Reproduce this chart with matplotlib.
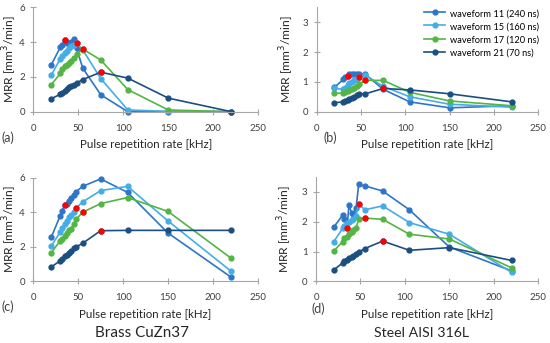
import matplotlib
matplotlib.use('Agg')
import matplotlib.pyplot as plt

# pulse repetition rates [kHz]
freq = [20, 30, 32, 35, 37, 40, 42, 45, 48, 55, 75, 105, 150, 220]

labels = ['waveform 11 (240 ns)', 'waveform 15 (160 ns)',
          'waveform 17 (120 ns)', 'waveform 21 (70 ns)']
colors = ['#2E75C8', '#45ADE6', '#52B544', '#1B4F82']
# index of the red point (PRF0) for each waveform
red_idx = [3, 8, 9, 10]

# (a)
a_wf11 = [2.7, 3.7, 3.85, 4.1, 3.95, 3.95, 4.0, 4.15, 3.65, 2.5, 0.97, 0.0, 0.0, 0.0]
a_wf15 = [2.1, 3.05, 3.2, 3.4, 3.5, 3.65, 3.75, 3.85, 3.95, 3.55, 1.9, 0.1, 0.02, 0.0]
a_wf17 = [1.55, 2.2, 2.45, 2.6, 2.7, 2.8, 2.9, 3.1, 3.3, 3.6, 2.97, 1.27, 0.1, 0.0]
a_wf21 = [0.75, 1.0, 1.1, 1.2, 1.3, 1.4, 1.45, 1.55, 1.65, 1.85, 2.27, 1.93, 0.78, 0.0]

# (b)
b_wf11 = [0.82, 1.08, 1.15, 1.2, 1.25, 1.27, 1.25, 1.27, 1.28, 1.25, 0.75, 0.33, 0.13, 0.2]
b_wf15 = [0.78, 0.75, 0.8, 0.88, 0.95, 1.0, 1.05, 1.1, 1.15, 1.22, 0.85, 0.5, 0.25, 0.15]
b_wf17 = [0.62, 0.62, 0.65, 0.7, 0.72, 0.77, 0.8, 0.87, 0.93, 1.05, 1.05, 0.65, 0.36, 0.2]
b_wf21 = [0.3, 0.33, 0.37, 0.4, 0.43, 0.47, 0.5, 0.55, 0.6, 0.6, 0.78, 0.73, 0.6, 0.33]

# (c)
c_wf11 = [2.55, 3.8, 4.1, 4.4, 4.5, 4.65, 4.8, 5.0, 5.2, 5.5, 5.93, 5.15, 2.8, 0.25]
c_wf15 = [2.05, 2.85, 3.1, 3.3, 3.5, 3.7, 3.85, 4.0, 4.25, 4.6, 5.25, 5.5, 3.5, 0.6]
c_wf17 = [1.65, 2.35, 2.45, 2.6, 2.8, 2.95, 3.05, 3.3, 3.6, 4.0, 4.5, 4.85, 4.05, 1.35]
c_wf21 = [0.82, 1.2, 1.3, 1.45, 1.55, 1.65, 1.75, 1.9, 2.0, 2.2, 2.93, 2.95, 2.95, 2.95]

# (d)
d_wf11 = [1.82, 2.22, 2.1, 1.8, 2.55, 2.3, 2.25, 2.45, 3.25, 3.2, 3.03, 2.4, 1.15, 0.35]
d_wf15 = [1.33, 1.78, 1.85, 1.95, 2.0, 2.05, 2.1, 2.2, 2.6, 2.4, 2.53, 1.97, 1.58, 0.3]
d_wf17 = [1.02, 1.33, 1.45, 1.5, 1.6, 1.65, 1.72, 1.8, 2.08, 2.12, 2.08, 1.58, 1.42, 0.45]
d_wf21 = [0.38, 0.62, 0.68, 0.73, 0.77, 0.8, 0.85, 0.92, 0.98, 1.1, 1.35, 1.04, 1.13, 0.7]

panels = [
    ('(a)', [a_wf11, a_wf15, a_wf17, a_wf21], 6, [0, 2, 4, 6]),
    ('(b)', [b_wf11, b_wf15, b_wf17, b_wf21], 3.5, [0, 1, 2, 3]),
    ('(c)', [c_wf11, c_wf15, c_wf17, c_wf21], 6, [0, 2, 4, 6]),
    ('(d)', [d_wf11, d_wf15, d_wf17, d_wf21], 3.5, [0, 1, 2, 3]),
]
# axes boxes in figure pixels: left, right, bottom / top (measured from the top edge)
boxes = [(33.3, 258.3, 111.7, 7.3), (316.7, 538.3, 111.7, 7.3),
         (33.3, 257.7, 281.3, 177.7), (316, 538.3, 281.3, 177)]
# panel tag positions (left x, centre y) and right edge of the y label, in pixels
tag_pos = [(1, 138), (323, 138), (1, 307), (312, 309)]
ylab_right = [19.5, 295.5, 19.5, 294]

plt.rcParams['font.family'] = ['Lato', 'DejaVu Sans']
W, H = 550, 343
fig = plt.figure(figsize=(W / 100, H / 100), dpi=100)
renderer = fig.canvas.get_renderer()


def fit(txt, target, vertical=False):
    '''scale the font so the text is target pixels long'''
    bb = txt.get_window_extent(renderer)
    cur = bb.height if vertical else bb.width
    txt.set_fontsize(txt.get_fontsize() * target / cur)
    return txt.get_fontsize()


axes = []
for (tag, series, ymax, yt), (l, r, b, t), (tx, ty), yr in zip(panels, boxes, tag_pos, ylab_right):
    aw, ah = r - l, b - t
    ax = fig.add_axes([l / W, 1 - b / H, aw / W, ah / H])
    axes.append(ax)
    for ys, c, lab, ri in zip(series, colors, labels, red_idx):
        ax.plot(freq, ys, '-o', color=c, lw=1.2, ms=3.5, label=lab, clip_on=False)
        ax.plot(freq[ri], ys[ri], 'o', color='#FF0000', ms=3.5, clip_on=False, zorder=5)
    ax.set_xlim(0, 250)
    ax.set_ylim(0, ymax)
    ax.set_xticks([0, 50, 100, 150, 200, 250])
    ax.set_yticks(yt)
    for s in ['top', 'right']:
        ax.spines[s].set_visible(False)
    for s in ['left', 'bottom']:
        ax.spines[s].set_color('#A6A6A6')
        ax.spines[s].set_linewidth(0.8)
    ax.tick_params(direction='inout', length=5, width=0.8, color='#A6A6A6',
                   labelsize=8.5, labelcolor='#404040')
    ax.tick_params(axis='x', pad=6)
    ax.tick_params(axis='y', pad=3.5)
    xl = ax.set_xlabel('Pulse repetition rate [kHz]', fontsize=8.5, color='#262626')
    yl = ax.set_ylabel('MRR [mm$^3$/min]', fontsize=9.5, color='#262626')
    ax.xaxis.set_label_coords(0.5, -27.5 / ah)
    ax.yaxis.set_label_coords(-(l - yr) / aw, 0.5)
    fit(xl, 133)
    fit(yl, 88, vertical=True)
    fig.text(tx / W, 1 - ty / H, tag, fontsize=9, color='#404040',
             ha='left', va='center')

# tick label size so that "100" is about 17 px wide
probe = fig.text(0, 0, '100', fontsize=8.5)
tsize = fit(probe, 17)
probe.remove()
for ax in axes:
    ax.tick_params(labelsize=tsize)

l, r, b, t = boxes[1]
leg = axes[1].legend(loc='upper left', bbox_to_anchor=((424 - l) / (r - l), (b - 8.5) / (b - t)),
                     frameon=False, fontsize=8, handlelength=1.9, labelspacing=0.3,
                     handletextpad=0.45, borderaxespad=0, borderpad=0)
lsize = fit(leg.get_texts()[0], 90)
for tx in leg.get_texts():
    tx.set_fontsize(lsize)

s1 = fig.text(141.7 / W, 1 - 333 / H, 'Brass CuZn37', ha='center', va='center',
              fontsize=12, color='#262626')
s2 = fig.text(421 / W, 1 - 333 / H, 'Steel AISI 316L', ha='center', va='center',
              fontsize=12, color='#262626')
fit(s1, 93)
fit(s2, 95)

fig.savefig('out.png', dpi=100)
